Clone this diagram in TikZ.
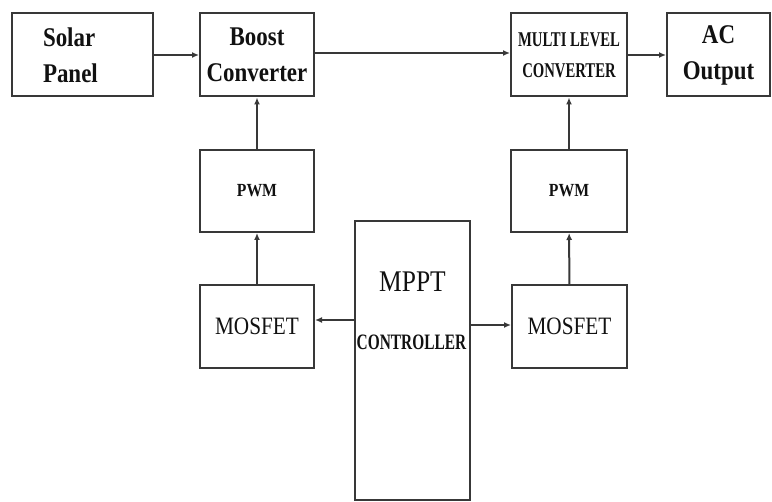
\documentclass[tikz,border=0pt]{standalone}
\usepackage{fontspec}
\setmainfont{Liberation Serif}
\newfontfamily\blocfont[FakeStretch=0.85]{Liberation Serif}
\newfontfamily\etroitfont[FakeStretch=0.7]{Liberation Serif}
\usetikzlibrary{arrows.meta}
\definecolor{bctrait}{HTML}{383838}
\definecolor{bctexte}{HTML}{111111}

\begin{document}
\begin{tikzpicture}[x=1pt,y=-1pt,
  bloc/.style={draw=bctrait,line width=2pt,inner sep=0pt,minimum height=83pt,align=center,text=bctexte},
  fleche/.style={-{Latex[length=7pt,width=6pt]},bctrait,line width=2pt},
  grand/.style={font=\blocfont\bfseries\fontsize{27}{36}\selectfont},
  petit/.style={font=\etroitfont\bfseries\fontsize{21}{31}\selectfont},
  moyen/.style={font=\blocfont\bfseries\fontsize{18.5}{22}\selectfont}]
  % Cadre
  \useasboundingbox (0,0) rectangle (772,502);
  % Ligne du haut
  \node[bloc,grand,text width=79pt,inner xsep=31pt,align=left] (solaire) at (82.5,55) {Solar\\Panel};
  \node[bloc,grand,minimum width=114pt] (boost) at (257,55) {Boost\\Converter};
  \node[bloc,petit,minimum width=116pt] (multi) at (569,55) {MULTI LEVEL\\CONVERTER};
  \node[bloc,grand,minimum width=103pt] (sortie) at (718.5,55) {AC\\Output};
  % PWM
  \node[bloc,moyen,minimum width=114pt,minimum height=82pt] (pwmg) at (257,191) {PWM};
  \node[bloc,moyen,minimum width=116pt,minimum height=82pt] (pwmd) at (569,191) {PWM};
  % MOSFET
  \node[bloc,font=\blocfont\fontsize{25}{30}\selectfont,minimum width=114pt] (mosg) at (257,326.5) {MOSFET};
  \node[bloc,font=\blocfont\fontsize{25}{30}\selectfont,minimum width=115pt] (mosd) at (569.5,326.5) {MOSFET};
  % Controleur MPPT
  \node[bloc,minimum width=115pt,minimum height=279pt] (mppt) at (412.5,360.5) {};
  \node[anchor=base,text=bctexte,font=\blocfont\fontsize{30}{30}\selectfont] (mpptnom) at (412.5,292) {MPPT};
  \node[anchor=base,text=bctexte,font=\etroitfont\bfseries\fontsize{22}{22}\selectfont] (mpptctl) at (411.5,350) {CONTROLLER};
  % Liaisons
  \draw[fleche] (solaire) -- (boost);
  \draw[fleche] ([yshift=2pt]boost.east) -- ([yshift=2pt]multi.west);
  \draw[fleche] (multi) -- (sortie);
  \draw[fleche] (pwmg) -- (boost);
  \draw[fleche] (mosg) -- (pwmg);
  \draw[fleche] (pwmd) -- (multi);
  \draw[fleche] (mosd) -- (pwmd);
  \draw[fleche] ([yshift=6.5pt]mppt.west |- mosg.east) -- ([yshift=6.5pt]mosg.east);
  \draw[fleche] ([yshift=1.5pt]mppt.east |- mosd.west) -- ([yshift=1.5pt]mosd.west);
\end{tikzpicture}
\end{document}
